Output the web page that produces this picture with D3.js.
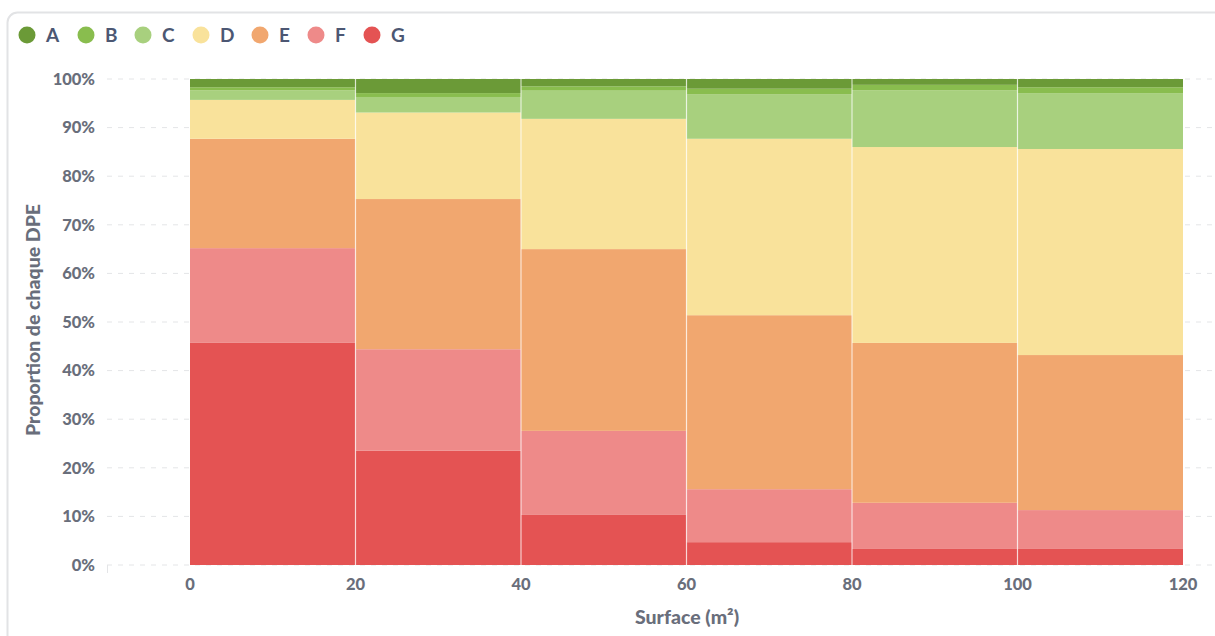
<!DOCTYPE html>
<html lang="fr">
<head>
<meta charset="UTF-8">
<title>DPE par surface</title>
<script src="https://cdn.jsdelivr.net/npm/d3@7"></script>
<style>
  body { margin: 0; background: #fff; font-family: Lato, "Open Sans", sans-serif; }
  .tick-label { font-size: 16.5px; font-weight: 900; fill: #696e7b; }
  .legend-label { font-size: 19px; font-weight: 700; fill: #4c5773; }
  .axis-title { font-size: 19.5px; font-weight: 900; fill: #696e7b; }
</style>
</head>
<body>
<svg id="chart" width="1215" height="636"></svg>
<script>
// bornes des classes de surface (m²)
var binStarts = [0, 20, 40, 60, 80, 100]
var binEnds = [20, 40, 60, 80, 100, 120]
var classes = ['A', 'B', 'C', 'D', 'E', 'F', 'G']
var colors = ['#6b9a37', '#89bd4e', '#a8d07e', '#f9e29b', '#f1a76f', '#ee8a89', '#e45353']
// proportion (%) de chaque DPE par classe
var valA = [1.7, 2.9, 1.5, 2.0, 1.2, 1.7]
var valB = [0.6, 0.8, 0.9, 1.2, 1.1, 1.2]
var valC = [2.0, 3.2, 5.8, 9.1, 11.7, 11.5]
var valD = [8.0, 17.8, 26.8, 36.3, 40.3, 42.4]
var valE = [22.5, 30.9, 37.4, 35.8, 32.9, 31.9]
var valF = [19.5, 20.9, 17.3, 10.9, 9.5, 8.0]
var valG = [45.7, 23.5, 10.3, 4.7, 3.3, 3.3]
var yTicks = [0, 10, 20, 30, 40, 50, 60, 70, 80, 90, 100]
var xTicks = [0, 20, 40, 60, 80, 100, 120]

var series = {A: valA, B: valB, C: valC, D: valD, E: valE, F: valF, G: valG}
var rows = binStarts.map(function (s, i) {
    var r = {x0: s, x1: binEnds[i]}
    classes.forEach(function (c) { r[c] = series[c][i] })
    return r
})

var svg = d3.select('#chart')

// cadre de la carte
svg.append('rect')
    .attr('x', 7.5).attr('y', 12.5)
    .attr('width', 1240).attr('height', 660)
    .attr('rx', 10)
    .style('fill', 'none').style('stroke', '#e2e3e5').style('stroke-width', 2)

var x = d3.scaleLinear().domain([-10, 120]).range([107.25, 1183])
var y = d3.scaleLinear().domain([0, 100]).range([565, 79])

// grille horizontale
svg.append('g').selectAll('line').data(yTicks).join('line')
    .attr('x1', 107).attr('x2', 1215)
    .attr('y1', function (d) { return y(d) }).attr('y2', function (d) { return y(d) })
    .style('stroke', '#e4e5e7').style('stroke-dasharray', '5,6')

svg.append('line')
    .attr('x1', 107.5).attr('x2', 107.5).attr('y1', 565).attr('y2', 573)
    .style('stroke', '#e4e5e7')

// empilement, G en bas
var stack = d3.stack().keys(classes.slice().reverse())
var layers = stack(rows)
var colorOf = d3.scaleOrdinal().domain(classes).range(colors)

svg.append('g').selectAll('g').data(layers).join('g')
    .style('fill', function (d) { return colorOf(d.key) })
    .selectAll('rect').data(function (d) { return d }).join('rect')
    .attr('x', function (d) { return x(d.data.x0) })
    .attr('width', function (d) { return x(d.data.x1) - x(d.data.x0) })
    .attr('y', function (d) { return y(d[1]) })
    .attr('height', function (d) { return y(d[0]) - y(d[1]) })

// séparations blanches entre les classes
svg.append('g').selectAll('line').data(binStarts.slice(1)).join('line')
    .attr('x1', function (d) { return x(d) }).attr('x2', function (d) { return x(d) })
    .attr('y1', y(0)).attr('y2', y(100))
    .style('stroke', 'rgba(255,255,255,0.7)').style('stroke-width', 1.2)

// axe Y
svg.append('g').selectAll('text').data(yTicks).join('text')
    .attr('class', 'tick-label')
    .attr('x', 95).attr('y', function (d) { return y(d) })
    .attr('dy', '0.35em')
    .style('text-anchor', 'end')
    .text(function (d) { return d + '%' })

// axe X
svg.append('g').selectAll('text').data(xTicks).join('text')
    .attr('class', 'tick-label')
    .attr('x', function (d) { return x(d) }).attr('y', 584)
    .attr('dy', '0.35em')
    .style('text-anchor', 'middle')
    .text(function (d) { return d })

svg.append('text').attr('class', 'axis-title')
    .attr('x', 687).attr('y', 624)
    .style('text-anchor', 'middle')
    .text('Surface (m²)')

svg.append('text').attr('class', 'axis-title')
    .attr('transform', 'translate(40,320) rotate(-90)')
    .style('text-anchor', 'middle')
    .text('Proportion de chaque DPE')

// légende
var legendX = [27, 86, 143, 201, 260, 316, 372]
var legend = svg.append('g').selectAll('g').data(classes).join('g')
    .attr('transform', function (d, i) { return 'translate(' + legendX[i] + ',35)' })
legend.append('circle').attr('r', 8.5).style('fill', function (d) { return colorOf(d) })
legend.append('text').attr('class', 'legend-label')
    .attr('x', 19).attr('dy', '0.36em')
    .text(function (d) { return d })
</script>
</body>
</html>
